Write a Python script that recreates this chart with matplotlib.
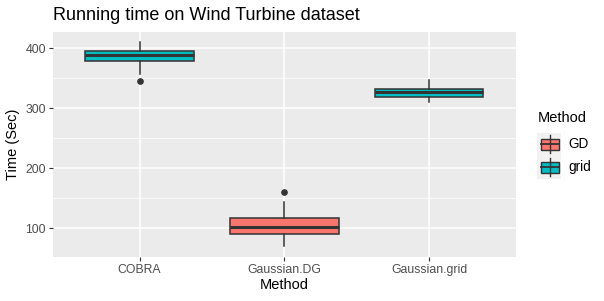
import matplotlib
matplotlib.use("Agg")
import matplotlib.pyplot as plt
from matplotlib.patches import Rectangle
from matplotlib.lines import Line2D
import numpy as np

plt.rcParams['font.family'] = ['Liberation Sans', 'DejaVu Sans']

categories = ["COBRA", "Gaussian.DG", "Gaussian.grid"]
groups = ["grid", "GD", "grid"]
q1 = [378.3, 90.0, 319.4]
med = [389.4, 102.8, 327.8]
q3 = [395.0, 116.6, 333.0]
whislo = [356.6, 71.0, 311.0]
whishi = [411.0, 143.9, 347.0]
fliers = [[345.0], [160.0], []]
yticks = [100, 200, 300, 400]
minor_yticks = [150, 250, 350]
colors = {"GD": "#F8766D", "grid": "#00BFC4"}
legend_labels = ["GD", "grid"]

fig = plt.figure(figsize=(6.04, 3.01), dpi=100)
ax = fig.add_axes([52.7/604, 1-256.7/301, (516-52.7)/604, (256.7-31.7)/301])
ax.set_facecolor("#EBEBEB")
for s in ax.spines.values():
    s.set_visible(False)

stats = []
for i in range(len(categories)):
    stats.append(dict(med=med[i], q1=q1[i], q3=q3[i], whislo=whislo[i],
                      whishi=whishi[i], fliers=fliers[i], label=categories[i]))
pos = np.arange(1, len(categories)+1)
bp = ax.bxp(stats, positions=pos, widths=0.75, patch_artist=True,
            boxprops=dict(edgecolor="#333333", linewidth=1.1),
            medianprops=dict(color="#333333", linewidth=2.2),
            whiskerprops=dict(color="#333333", linewidth=1.1),
            capprops=dict(linewidth=0),
            flierprops=dict(marker='o', markerfacecolor="#333333",
                            markeredgecolor="#333333", markersize=3.8),
            zorder=3)
for patch, g in zip(bp['boxes'], groups):
    patch.set_facecolor(colors[g])

ax.set_xlim(0.4, 3.6)
ax.set_ylim(52.7, 427.8)
ax.set_yticks(yticks)
ax.set_yticks(minor_yticks, minor=True)
ax.set_xticks(pos)
ax.set_xticklabels(categories)
ax.grid(which='major', color='white', linewidth=1.1, zorder=0)
ax.grid(which='minor', axis='y', color='white', linewidth=0.55, zorder=0)
ax.set_axisbelow(True)
ax.tick_params(which='major', length=3, color="#333333", labelcolor="#4D4D4D",
               labelsize=8.8, width=0.8, pad=2)
ax.tick_params(which='minor', length=0)
ax.set_xlabel("Method", fontsize=10.5, labelpad=2)
ax.set_ylabel("Time (Sec)", fontsize=10.5, labelpad=4)

fig.text(53/604, 1-16/301, "Running time on Wind Turbine dataset", fontsize=13,
         va='center', ha='left')

# legend
fig.text(538/604, 1-118/301, "Method", fontsize=10.5, va='center', ha='left')
key_cy = [144, 167]
for lab, cy in zip(legend_labels, key_cy):
    fig.patches.append(Rectangle((537.3/604, 1-(cy+11.5)/301), 23.5/604, 23/301,
                                 transform=fig.transFigure, facecolor="#F2F2F2",
                                 edgecolor='none'))
    fig.lines.append(Line2D([550/604, 550/604], [1-(cy-9)/301, 1-(cy+9)/301],
                            transform=fig.transFigure, color="#333333", linewidth=1.0))
    fig.patches.append(Rectangle((540.7/604, 1-(cy+5.5)/301), 18.3/604, 11/301,
                                 transform=fig.transFigure, facecolor=colors[lab],
                                 edgecolor="#333333", linewidth=1.0))
    fig.lines.append(Line2D([540.7/604, 559/604], [1-cy/301, 1-cy/301],
                            transform=fig.transFigure, color="#333333", linewidth=1.3))
    fig.text(568/604, 1-cy/301, lab, fontsize=9.8, va='center', ha='left')

fig.savefig("out.png", dpi=100)
